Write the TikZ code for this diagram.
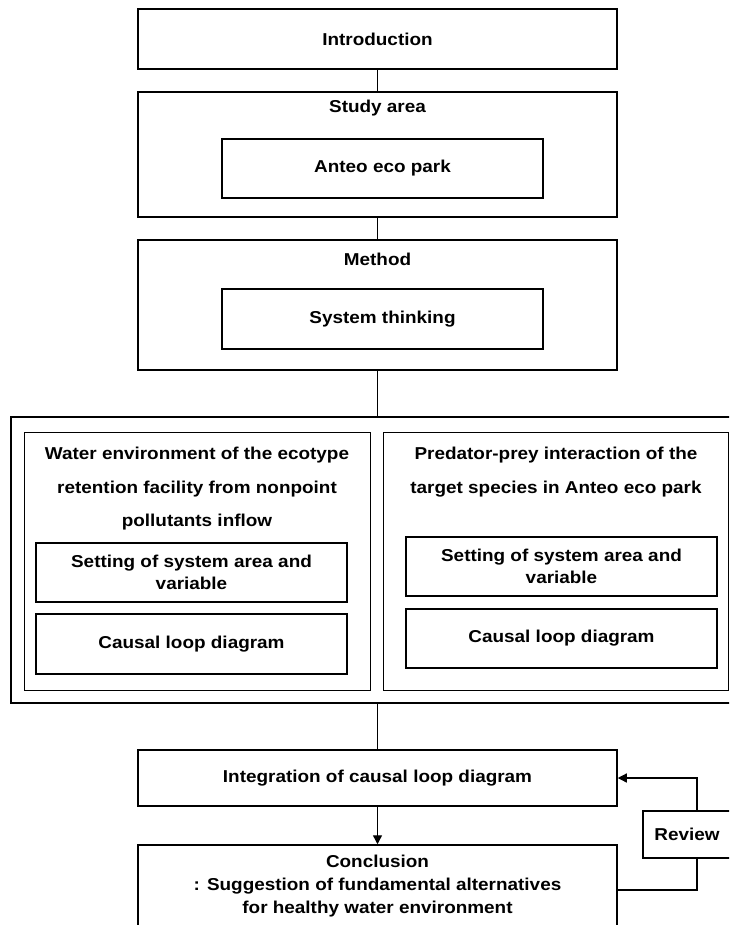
\documentclass[tikz,border=0pt]{standalone}
\usepackage{fontspec}
\setmainfont{Liberation Sans}[FakeStretch=1.1]
\usetikzlibrary{arrows.meta}
\begin{document}
\begin{tikzpicture}[x=1pt,y=-1pt,
  every node/.style={font=\bfseries\fontsize{17.2}{23}\selectfont},
  mainbox/.style={draw, line width=1.5pt, inner sep=0pt, align=center},
  panel/.style={draw, line width=0.8pt, inner sep=0pt},
  title/.style={inner sep=0pt, align=center},
  conn/.style={line width=1.3pt},
  arr/.style={line width=1.3pt, -{Triangle[length=9pt,width=9pt]}}]
\useasboundingbox (0,0) rectangle (729,925);
\clip (0,0) rectangle (729,925);
% top boxes
\node[mainbox, minimum width=479, minimum height=60] (intro) at (377.5,39) {Introduction};
\node[mainbox, minimum width=479, minimum height=125] (study) at (377.5,154.5) {};
\node[title] (studyt) at (377.5,108) {Study area};
\node[mainbox, minimum width=321, minimum height=59] (anteo) at (382.5,168.5) {Anteo eco park};
\node[mainbox, minimum width=479, minimum height=130] (method) at (377.5,305) {};
\node[title] (methodt) at (377.5,259) {Method};
\node[mainbox, minimum width=321, minimum height=60] (system) at (382.5,319) {System thinking};
% big box
\node[mainbox, minimum width=734, minimum height=286] (outer) at (378,560) {};
\node[panel, minimum width=346, minimum height=258] (left) at (197,561) {};
\node[panel, minimum width=345, minimum height=258] (right) at (555.5,561) {};
\node[title, font=\bfseries\fontsize{17.2}{33.5}\selectfont] (leftt) at (197,489)
  {Water environment of the ecotype\\retention facility from nonpoint\\pollutants inflow};
\node[title, font=\bfseries\fontsize{17.2}{33.5}\selectfont] (rightt) at (556,472)
  {Predator-prey interaction of the\\target species in Anteo eco park};
\node[mainbox, minimum width=311, minimum height=59, font=\bfseries\fontsize{17.2}{22}\selectfont] (l1) at (191.5,572.5) {Setting of system area and\\variable};
\node[mainbox, minimum width=311, minimum height=60] (l2) at (191.5,644) {Causal loop diagram};
\node[mainbox, minimum width=311, minimum height=59, font=\bfseries\fontsize{17.2}{22}\selectfont] (r1) at (561.5,566.5) {Setting of system area and\\variable};
\node[mainbox, minimum width=311, minimum height=59] (r2) at (561.5,638.5) {Causal loop diagram};
% bottom
\node[mainbox, minimum width=479, minimum height=56] (integ) at (377.5,778) {Integration of causal loop diagram};
\node[mainbox, minimum width=479, minimum height=115] (concl) at (377.5,902.5) {};
\node[title] (conclt) at (377.5,886) {Conclusion\\: Suggestion of fundamental alternatives\\for healthy water environment};
\node[mainbox, minimum width=88, minimum height=47] (review) at (687,834.5) {Review};
% connectors
\draw[conn] (intro.south) -- (study.north);
\draw[conn] (study.south) -- (method.north);
\draw[conn] (method.south) -- (outer.north -| method.south);
\draw[conn] (outer.south -| integ.north) -- (integ.north);
\draw[arr] (integ.south) -- (concl.north);
\coordinate (rtop) at (697,778);
\coordinate (rbot) at (697,890);
\draw[arr] (review.north -| rtop) -- (rtop) -- (integ.east);
\draw[conn] (review.south -| rbot) -- (rbot) -- (concl.east |- rbot);
\end{tikzpicture}
\end{document}
